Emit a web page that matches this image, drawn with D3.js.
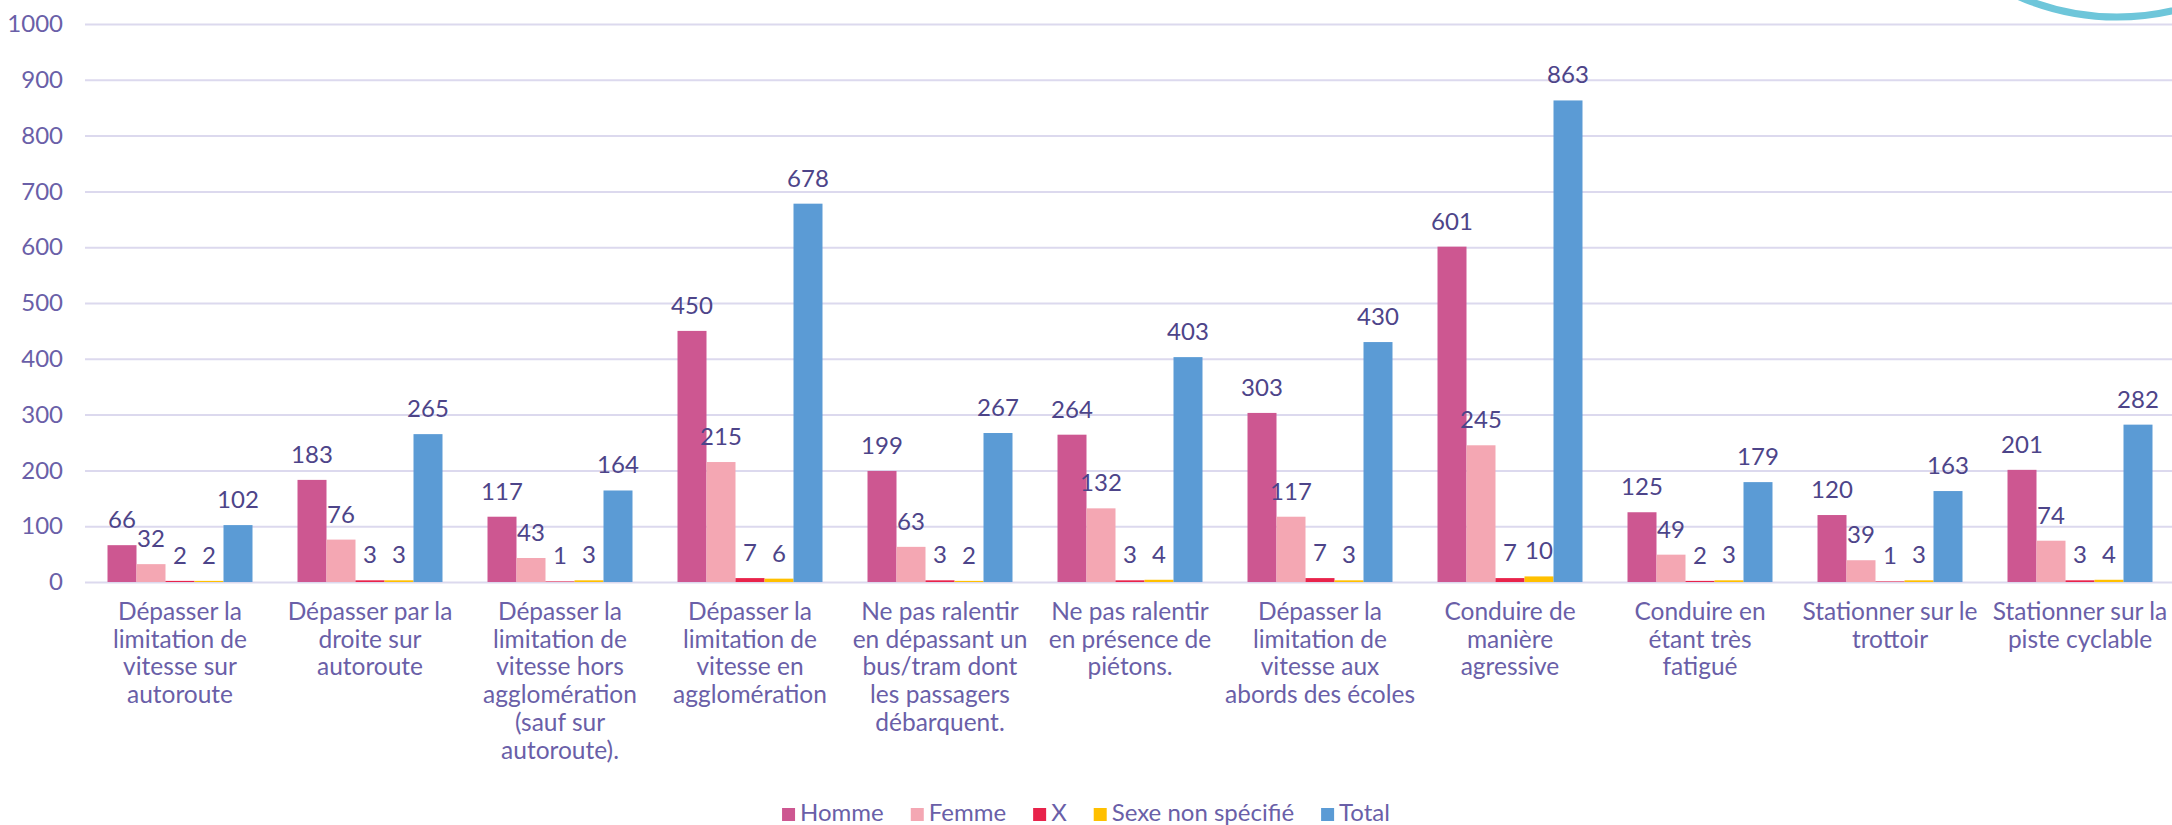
<!DOCTYPE html>
<html>
<head>
<meta charset="utf-8">
<script src="https://cdn.jsdelivr.net/npm/d3@7"></script>
<style>
  body { margin: 0; background: #fff; }
  text { font-family: Lato, "Open Sans", sans-serif; }
</style>
</head>
<body>
<div id="chart"></div>
<script>
// infractions signalées, par sexe + total
let categories = [
  "Dépasser la\nlimitation de\nvitesse sur\nautoroute",
  "Dépasser par la\ndroite sur\nautoroute",
  "Dépasser la\nlimitation de\nvitesse hors\nagglomération\n(sauf sur\nautoroute).",
  "Dépasser la\nlimitation de\nvitesse en\nagglomération",
  "Ne pas ralentir\nen dépassant un\nbus/tram dont\nles passagers\ndébarquent.",
  "Ne pas ralentir\nen présence de\npiétons.",
  "Dépasser la\nlimitation de\nvitesse aux\nabords des écoles",
  "Conduire de\nmanière\nagressive",
  "Conduire en\nétant très\nfatigué",
  "Stationner sur le\ntrottoir",
  "Stationner sur la\npiste cyclable"
]
let seriesNames = ["Homme", "Femme", "X", "Sexe non spécifié", "Total"]
let homme = [66, 183, 117, 450, 199, 264, 303, 601, 125, 120, 201]
let femme = [32, 76, 43, 215, 63, 132, 117, 245, 49, 39, 74]
let sexeX = [2, 3, 1, 7, 3, 3, 7, 7, 2, 1, 3]
let nonSpecifie = [2, 3, 3, 6, 2, 4, 3, 10, 3, 3, 4]
let total = [102, 265, 164, 678, 267, 403, 430, 863, 179, 163, 282]
let yTicks = [0, 100, 200, 300, 400, 500, 600, 700, 800, 900, 1000]

let colors = ["#cd5791", "#f4a7b3", "#e8234b", "#ffc000", "#5b9bd5"]
let seriesValues = [homme, femme, sexeX, nonSpecifie, total]

let width = 2172
let height = 825
let margin = ({top: 24, right: -3, bottom: 243, left: 85})
let axisColor = "#6a5fa8"
let labelColor = "#4d4489"

let rows = categories.map((c, i) => {
  let r = {cat: c}
  seriesNames.forEach((s, j) => r[s] = seriesValues[j][i])
  return r
})

let x0 = d3.scaleBand()
  .domain(categories)
  .range([margin.left, width - margin.right])

let x1 = d3.scaleBand()
  .domain(seriesNames)
  .range([0, x0.bandwidth()])
  .paddingOuter(0.776)

let y = d3.scaleLinear()
  .domain([0, 1000])
  .range([height - margin.bottom, margin.top])

let color = d3.scaleOrdinal().domain(seriesNames).range(colors)

let svg = d3.select("#chart").append("svg")
  .attr("width", width)
  .attr("height", height)

// decoration in the corner
svg.append("circle")
  .attr("cx", 2117).attr("cy", -230).attr("r", 247)
  .attr("fill", "none")
  .attr("stroke", "#6ec6da")
  .attr("stroke-width", 7)

// gridlines + y labels
let yAxis = svg.append("g")
  .attr("transform", `translate(${margin.left},0)`)
  .call(d3.axisLeft(y).tickValues(yTicks).tickFormat(d3.format("d"))
    .tickSize(-(width - margin.right - margin.left)).tickPadding(22))
yAxis.select(".domain").remove()
yAxis.selectAll(".tick line").attr("stroke", "#dcd9ee").attr("stroke-width", 2)
yAxis.selectAll(".tick text")
  .attr("fill", axisColor)
  .style("font-size", "24px")

// bars
let groups = svg.append("g").selectAll("g")
  .data(rows)
  .join("g")
  .attr("transform", d => `translate(${x0(d.cat)},0)`)

groups.selectAll("rect")
  .data(d => seriesNames.map(s => ({key: s, value: d[s]})))
  .join("rect")
  .attr("x", d => x1(d.key))
  .attr("width", x1.bandwidth())
  .attr("y", d => y(d.value))
  .attr("height", d => y(0) - y(d.value))
  .attr("fill", d => color(d.key))

groups.selectAll("text.val")
  .data(d => seriesNames.map(s => ({key: s, value: d[s]})))
  .join("text")
  .attr("class", "val")
  .attr("x", d => x1(d.key) + x1.bandwidth() / 2)
  .attr("y", d => y(d.value) - 17)
  .attr("text-anchor", "middle")
  .attr("fill", labelColor)
  .style("font-size", "24px")
  .text(d => d.value)

// category labels
let catLabels = svg.append("g").selectAll("text")
  .data(categories)
  .join("text")
  .attr("text-anchor", "middle")
  .attr("fill", axisColor)
  .style("font-size", "24.5px")

catLabels.selectAll("tspan")
  .data(d => d.split("\n").map(line => ({line: line, cat: d})))
  .join("tspan")
  .attr("x", d => x0(d.cat) + x0.bandwidth() / 2)
  .attr("y", (d, i) => 620 + i * 27.7)
  .text(d => d.line)

// legend
let legend = svg.append("g")
let items = legend.selectAll("g")
  .data(seriesNames)
  .join("g")
items.append("rect")
  .attr("y", 808).attr("width", 13).attr("height", 13)
  .attr("fill", d => color(d))
items.append("text")
  .attr("x", 18).attr("y", 821)
  .attr("fill", axisColor)
  .style("font-size", "24px")
  .text(d => d)

let pos = 0
items.each(function() {
  let g = d3.select(this)
  g.attr("transform", `translate(${pos},0)`)
  pos += 18 + g.select("text").node().getComputedTextLength() + 27
})
pos -= 27
legend.attr("transform", `translate(${width / 2 - pos / 2},0)`)
</script>
</body>
</html>
